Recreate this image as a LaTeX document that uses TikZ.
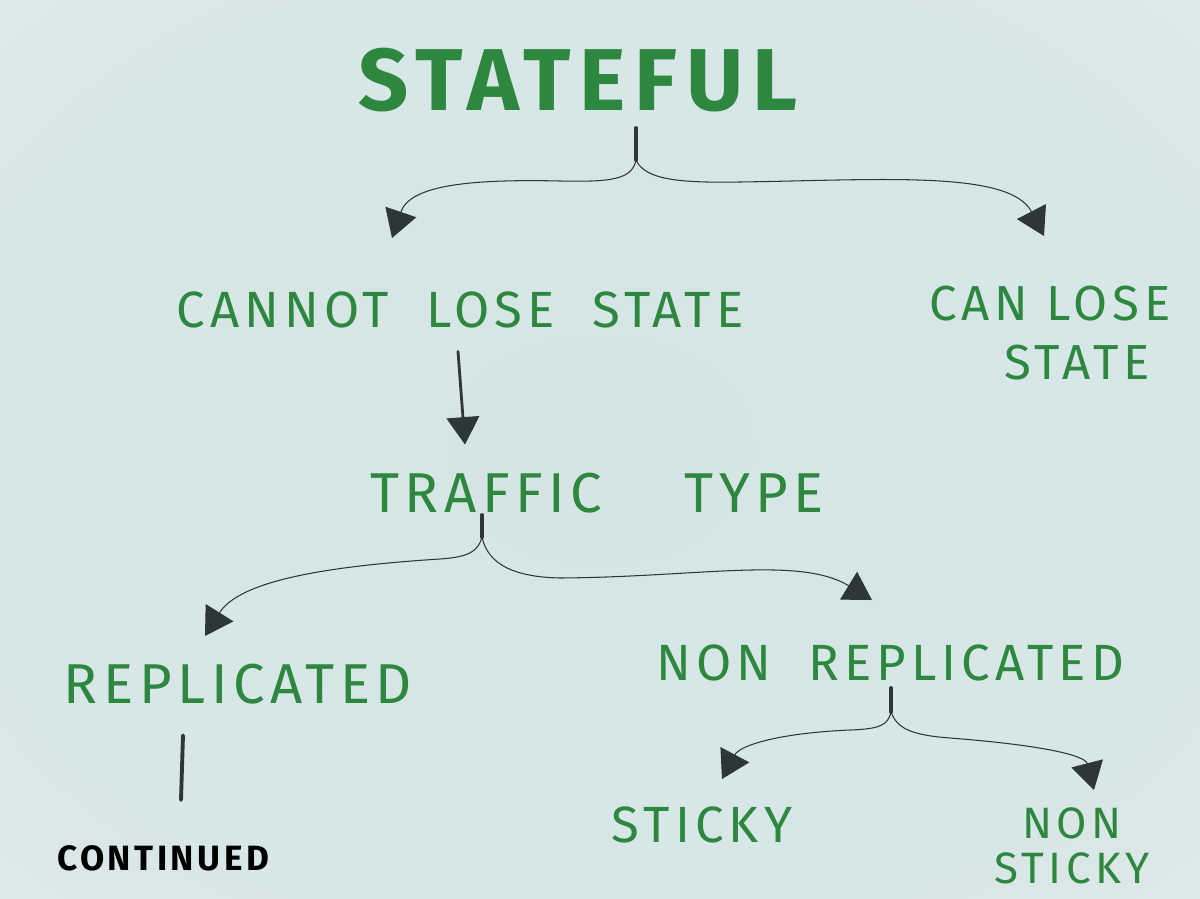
\documentclass[tikz,border=0pt]{standalone}
\usepackage{fontspec}
\setmainfont{Fira Sans}
\newfontfamily\hand[LetterSpace=10]{Fira Sans}
\usepackage{tikz}
\usetikzlibrary{
  arrows.meta,
  positioning,
  calc
}
\definecolor{inkgreen}{RGB}{46,135,62}
\definecolor{inkdark}{RGB}{45,55,54}
\pgfdeclareradialshading{paperwash}{\pgfpoint{0bp}{0bp}}{%
  rgb(0bp)=(0.835,0.898,0.898);
  rgb(14bp)=(0.845,0.902,0.902);
  rgb(22bp)=(0.905,0.930,0.928);
  rgb(25bp)=(0.940,0.948,0.945);
  rgb(50bp)=(0.940,0.948,0.945)}

\begin{document}
\begin{tikzpicture}[
        x=0.02cm, y=-0.02cm,
        >={Triangle[length=0.55cm,width=0.65cm]},
        label/.style={text=inkgreen, font=\hand\fontsize{29}{34}\selectfont, inner sep=0pt, align=center},
        small/.style={text=black, font=\hand\bfseries\fontsize{20}{24}\selectfont, inner sep=0pt},
        stem/.style={draw=inkdark, line width=2.2pt, line cap=round},
        twig/.style={draw=inkdark, line width=0.6pt, ->}
    ]
        % paper
        \useasboundingbox (0,0) rectangle (1200,899);
        \shade[shading=paperwash] (-600,-450) rectangle (1800,1349);
        % Rotulos
        \node[text=inkgreen, font=\hand\bfseries\fontsize{50}{60}\selectfont, inner sep=0pt] (title) at (578,80) {STATEFUL};
        \node[label] (cannot) at (460,310) {CANNOT\ \ LOSE\ \ STATE};
        \node[label, font=\hand\fontsize{28}{34}\selectfont] (can) at (1050,333) {CAN\ LOSE\\\ \ \ STATE};
        \node[label, font=\hand\fontsize{32}{38}\selectfont] (traffic) at (597,493) {TRAFFIC\ \ \ \ TYPE};
        \node[label, font=\hand\fontsize{32}{40}\selectfont] (repl) at (238,684) {REPLICATED};
        \node[label] (nonrepl) at (890,663) {NON\ \ REPLICATED};
        \node[label] (sticky) at (702,825) {STICKY};
        \node[label, font=\hand\fontsize{25}{26}\selectfont] (nonsticky) at (1072,846) {NON\\STICKY};
        \node[small] (cont) at (163,858) {CONTINUED};
        % pontos das chaves
        \coordinate (topA) at (636,128); \coordinate (forkA) at (636,160);
        \coordinate (topB) at (482,515); \coordinate (forkB) at (482,537);
        \coordinate (topC) at (891,688); \coordinate (forkC) at (891,712);
        % Stateful -> dois ramos
        \draw[stem] (topA) -- (forkA);
        \draw[twig] (forkA) .. controls (632,180) and (610,182) .. (560,181)
            .. controls (470,179) and (410,185) .. (392,238);
        \draw[twig] (forkA) .. controls (645,180) and (680,183) .. (740,182)
            .. controls (880,180) and (1010,170) .. (1044,236);
        % Cannot lose state -> traffic type
        \draw[draw=inkdark, line width=1.6pt, line cap=round, ->] ($(cannot.south)+(-2,23)$) coordinate (c1)
            -- ($(traffic.north)+(-132,-28)$) coordinate (c2);
        % Traffic type -> dois ramos
        \draw[stem] (topB) -- (forkB);
        \draw[twig] (forkB) .. controls (478,552) and (468,557) .. (440,559)
            .. controls (330,566) and (240,580) .. (205,636);
        \draw[twig] (forkB) .. controls (488,565) and (515,577) .. (560,578)
            .. controls (700,577) and (800,556) .. (872,600);
        % replicated -> continued
        \draw[stem] ($(repl.south)+(-55,31)$) coordinate (r1) -- ($(cont.north)+(18,-45)$) coordinate (r2);
        % Non replicated -> dois ramos
        \draw[stem] (topC) -- (forkC);
        \draw[twig] (forkC) .. controls (888,725) and (880,729) .. (850,730)
            .. controls (780,733) and (740,745) .. (722,779);
        \draw[twig] (forkC) .. controls (897,728) and (910,735) .. (950,738)
            .. controls (1040,745) and (1085,755) .. (1094,790);
    \end{tikzpicture}
\end{document}
